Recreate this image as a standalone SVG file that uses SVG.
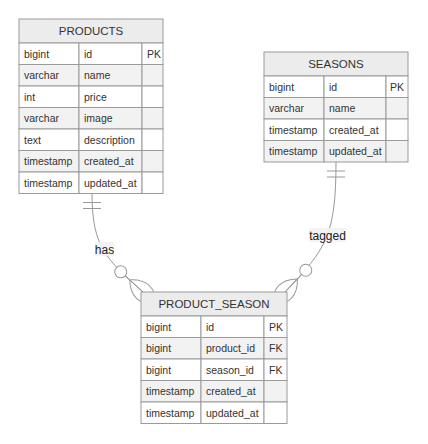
<svg xmlns="http://www.w3.org/2000/svg" width="428" height="444" viewBox="0 0 428 444">
<style>
.bg{fill:#ffffff}
rect{stroke:#9a9a9a;stroke-width:1}
.hdr{fill:#ececec}
.o{fill:#ffffff}
.e{fill:#f2f2f2}
text{font-family:"Liberation Sans",Arial,sans-serif;font-size:10.5px;fill:#333}
.h{text-anchor:middle;font-size:11.5px}
.lbl{font-size:12px;fill:#222;text-anchor:middle}
.lblbg{fill:#f2f2f2;stroke:none;opacity:0.9}
.rel{fill:none;stroke:#999;stroke-width:1}
</style>
<defs>
<marker id="oneStart" refX="0" refY="9" markerWidth="18" markerHeight="18" orient="auto" markerUnits="userSpaceOnUse">
<path d="M9,0 L9,18 M15,0 L15,18" fill="none" stroke="#999"/>
</marker>
<marker id="manyEnd" refX="39" refY="18" markerWidth="57" markerHeight="36" orient="auto" markerUnits="userSpaceOnUse">
<circle cx="9" cy="18" r="6" fill="#fff" stroke="#999"/>
<path d="M21,18 Q39,0 57,18 Q39,36 21,18" fill="none" stroke="#999"/>
<path d="M15,18 L39,18" fill="none" stroke="#999"/>
</marker>
</defs>
<rect class="bg" x="0" y="0" width="428" height="444" style="stroke:none"/>
<g id="connectors">
<path class="rel" d="M92,193.5 C92,248 107,259.4 143,292" marker-start="url(#oneStart)" marker-end="url(#manyEnd)"/>
<path class="rel" d="M336,162 C336,235 326.4,248.8 285,292" marker-start="url(#oneStart)" marker-end="url(#manyEnd)"/>
<rect class="lblbg" x="95" y="242" width="19" height="14"/>
<text class="lbl" x="104.5" y="253.5">has</text>
<rect class="lblbg" x="309" y="228" width="37" height="14"/>
<text class="lbl" x="327.5" y="239.5">tagged</text>
</g>
<g id="PRODUCTS">
<rect class="hdr" x="19" y="19" width="144" height="24"/>
<text class="h" x="91" y="35">PRODUCTS</text>
<rect class="o" x="19" y="43" width="60" height="21.5"/><rect class="o" x="79" y="43" width="63" height="21.5"/><rect class="o" x="142" y="43" width="21" height="21.5"/>
<rect class="e" x="19" y="64.5" width="60" height="21.5"/><rect class="e" x="79" y="64.5" width="63" height="21.5"/><rect class="e" x="142" y="64.5" width="21" height="21.5"/>
<rect class="o" x="19" y="86" width="60" height="21.5"/><rect class="o" x="79" y="86" width="63" height="21.5"/><rect class="o" x="142" y="86" width="21" height="21.5"/>
<rect class="e" x="19" y="107.5" width="60" height="21.5"/><rect class="e" x="79" y="107.5" width="63" height="21.5"/><rect class="e" x="142" y="107.5" width="21" height="21.5"/>
<rect class="o" x="19" y="129" width="60" height="21.5"/><rect class="o" x="79" y="129" width="63" height="21.5"/><rect class="o" x="142" y="129" width="21" height="21.5"/>
<rect class="e" x="19" y="150.5" width="60" height="21.5"/><rect class="e" x="79" y="150.5" width="63" height="21.5"/><rect class="e" x="142" y="150.5" width="21" height="21.5"/>
<rect class="o" x="19" y="172" width="60" height="21.5"/><rect class="o" x="79" y="172" width="63" height="21.5"/><rect class="o" x="142" y="172" width="21" height="21.5"/>
<text x="24" y="57.5">bigint</text><text x="84" y="57.5">id</text><text x="147" y="57.5">PK</text>
<text x="24" y="79">varchar</text><text x="84" y="79">name</text>
<text x="24" y="100.5">int</text><text x="84" y="100.5">price</text>
<text x="24" y="122">varchar</text><text x="84" y="122">image</text>
<text x="24" y="143.5">text</text><text x="84" y="143.5">description</text>
<text x="24" y="165">timestamp</text><text x="84" y="165">created_at</text>
<text x="24" y="186.5">timestamp</text><text x="84" y="186.5">updated_at</text>
</g>
<g id="SEASONS">
<rect class="hdr" x="264" y="52" width="144" height="24"/>
<text class="h" x="336" y="68">SEASONS</text>
<rect class="o" x="264" y="76" width="60" height="21.5"/><rect class="o" x="324" y="76" width="62" height="21.5"/><rect class="o" x="386" y="76" width="22" height="21.5"/>
<rect class="e" x="264" y="97.5" width="60" height="21.5"/><rect class="e" x="324" y="97.5" width="62" height="21.5"/><rect class="e" x="386" y="97.5" width="22" height="21.5"/>
<rect class="o" x="264" y="119" width="60" height="21.5"/><rect class="o" x="324" y="119" width="62" height="21.5"/><rect class="o" x="386" y="119" width="22" height="21.5"/>
<rect class="e" x="264" y="140.5" width="60" height="21.5"/><rect class="e" x="324" y="140.5" width="62" height="21.5"/><rect class="e" x="386" y="140.5" width="22" height="21.5"/>
<text x="269" y="90.5">bigint</text><text x="329" y="90.5">id</text><text x="390" y="90.5">PK</text>
<text x="269" y="112">varchar</text><text x="329" y="112">name</text>
<text x="269" y="133.5">timestamp</text><text x="329" y="133.5">created_at</text>
<text x="269" y="155">timestamp</text><text x="329" y="155">updated_at</text>
</g>
<g id="PRODUCT_SEASON">
<rect class="hdr" x="141" y="292" width="146" height="24"/>
<text class="h" x="214" y="308">PRODUCT_SEASON</text>
<rect class="o" x="141" y="316" width="60" height="21.5"/><rect class="o" x="201" y="316" width="63" height="21.5"/><rect class="o" x="264" y="316" width="23" height="21.5"/>
<rect class="e" x="141" y="337.5" width="60" height="21.5"/><rect class="e" x="201" y="337.5" width="63" height="21.5"/><rect class="e" x="264" y="337.5" width="23" height="21.5"/>
<rect class="o" x="141" y="359" width="60" height="21.5"/><rect class="o" x="201" y="359" width="63" height="21.5"/><rect class="o" x="264" y="359" width="23" height="21.5"/>
<rect class="e" x="141" y="380.5" width="60" height="21.5"/><rect class="e" x="201" y="380.5" width="63" height="21.5"/><rect class="e" x="264" y="380.5" width="23" height="21.5"/>
<rect class="o" x="141" y="402" width="60" height="21.5"/><rect class="o" x="201" y="402" width="63" height="21.5"/><rect class="o" x="264" y="402" width="23" height="21.5"/>
<text x="146" y="330.5">bigint</text><text x="206" y="330.5">id</text><text x="269" y="330.5">PK</text>
<text x="146" y="352">bigint</text><text x="206" y="352">product_id</text><text x="269" y="352">FK</text>
<text x="146" y="373.5">bigint</text><text x="206" y="373.5">season_id</text><text x="269" y="373.5">FK</text>
<text x="146" y="395">timestamp</text><text x="206" y="395">created_at</text>
<text x="146" y="416.5">timestamp</text><text x="206" y="416.5">updated_at</text>
</g>
</svg>
